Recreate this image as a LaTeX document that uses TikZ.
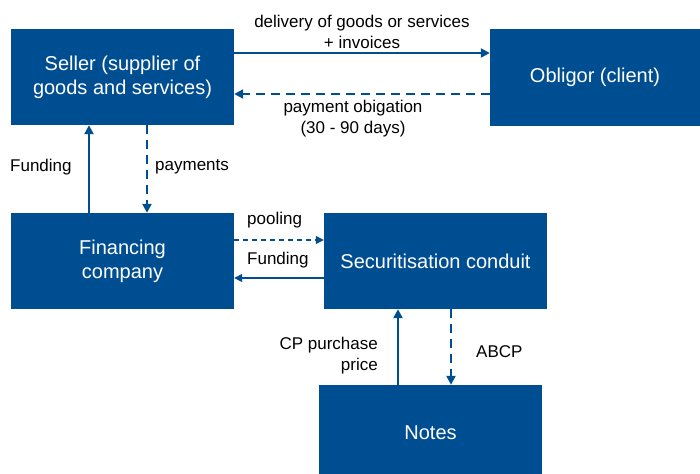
\documentclass[tikz,border=0pt]{standalone}
\usepackage{fontspec}
\setmainfont{Liberation Sans}
\usetikzlibrary{arrows.meta}
\definecolor{ecbblue}{RGB}{0,78,146}
\tikzset{
  box/.style={fill=ecbblue, draw=none, text=white, minimum width=223pt, minimum height=96pt, inner sep=0pt, align=center, font=\fontsize{20}{24}\selectfont},
  lbl/.style={text=black, inner sep=0pt, align=center, font=\fontsize{17}{21}\selectfont},
  flow/.style={draw=ecbblue, line width=2.2pt, -{Triangle[length=9pt,width=9pt]}},
  thinflow/.style={draw=ecbblue, line width=1.4pt, -{Triangle[length=8pt,width=8pt]}},
  bigdash/.style={dash pattern=on 9pt off 6pt},
  smalldash/.style={dash pattern=on 5pt off 4pt},
}
\begin{document}
\begin{tikzpicture}[x=1pt,y=-1pt]
\useasboundingbox (0,0) rectangle (700,473);
\node[box] (seller) at (122.5,77) {Seller (supplier of\\goods and services)};
\node[box, minimum width=210pt, minimum height=97pt] (obligor) at (595,77.5) {Obligor (client)};
\node[box] (fin) at (122.5,261) {Financing\\company};
\node[box] (cond) at (435.5,261) {Securitisation conduit};
\node[box] (notes) at (430.5,433) {Notes};

% seller <-> obligor
\draw[flow] (seller.east |- 0,53) -- (obligor.west |- 0,53);
\draw[flow, bigdash] (obligor.west |- 0,94) -- (seller.east |- 0,94);
\node[lbl] (l1) at (362,32) {delivery of goods or services\\+ invoices};
\node[lbl] (l2) at (353,119) {payment obigation\\(30 - 90 days)};

% seller <-> financing
\draw[flow] (fin.north -| 89,0) -- (seller.south -| 89,0);
\draw[flow, bigdash] (seller.south -| 147,0) -- (fin.north -| 147,0);
\node[lbl, anchor=west] (l3) at (10,167) {Funding};
\node[lbl, anchor=west] (l4) at (155,167) {payments};

% financing <-> conduit
\draw[thinflow, smalldash] (fin.east |- 0,240) -- (cond.west |- 0,240);
\draw[thinflow] (cond.west |- 0,278) -- (fin.east |- 0,278);
\node[lbl, anchor=west] (l5) at (247,220) {pooling};
\node[lbl, anchor=west] (l6) at (247,260) {Funding};

% conduit <-> notes
\draw[flow] (notes.north -| 398,0) -- (cond.south -| 398,0);
\draw[flow, bigdash] (cond.south -| 451,0) -- (notes.north -| 451,0);
\node[lbl, anchor=east, align=right] (l7) at (378,356) {CP purchase\\price};
\node[lbl, anchor=west] (l8) at (476,352) {ABCP};
\end{tikzpicture}
\end{document}
